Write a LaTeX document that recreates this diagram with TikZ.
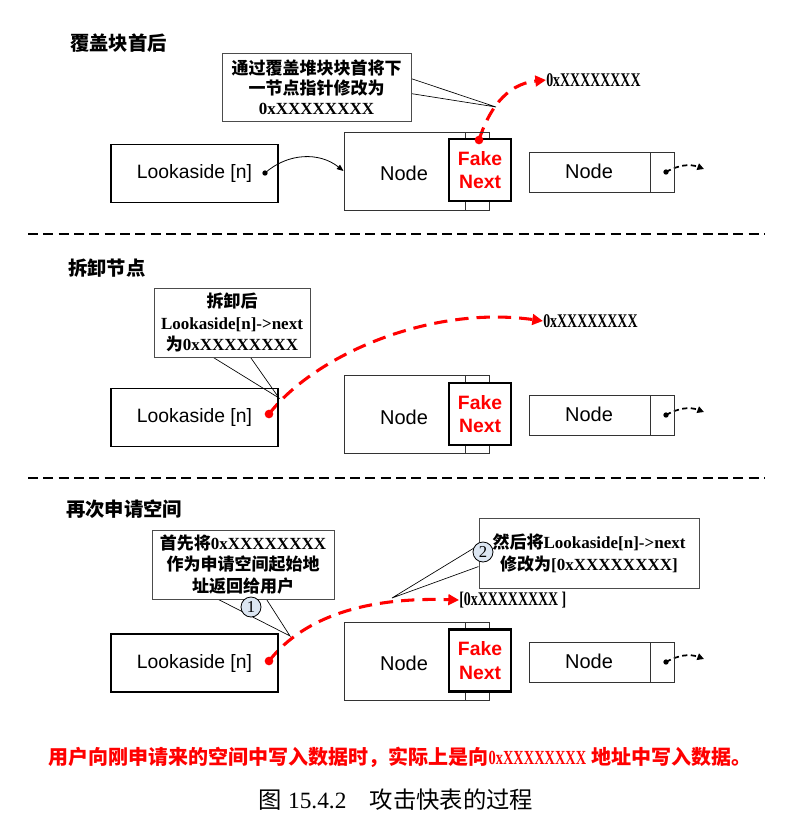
\documentclass[tikz,border=0pt]{standalone}
\usepackage{fontspec}
\setmainfont{Liberation Serif}
\setsansfont{Liberation Sans}
\setmonofont{Liberation Mono}
\newfontfamily\cjk{Noto Sans CJK SC}
\newfontfamily\addrfont{Liberation Serif}[FakeStretch=0.72]
\newcommand{\zh}[1]{{\cjk #1}}
\usetikzlibrary{arrows.meta}
\pgfdeclarelayer{edgelayer}
\pgfdeclarelayer{nodelayer}
\pgfsetlayers{edgelayer,nodelayer,main}
\definecolor{bubble}{HTML}{DCE6F2}
\tikzset{x=0.75pt,y=-0.75pt}
\tikzstyle{txt}=[inner sep=0pt]
\tikzstyle{heading}=[inner sep=0pt,anchor=west,font=\bfseries\fontsize{14.5}{17}\selectfont]
\tikzstyle{note}=[draw=black!70,line width=0.75pt,align=center,inner sep=0pt,font=\bfseries\fontsize{12.75}{16}\selectfont]
\tikzstyle{lookbox}=[draw,line width=0.9pt,minimum width=125.25pt,minimum height=43.5pt,font=\sffamily\fontsize{14.5}{16}\selectfont]
\tikzstyle{chunk}=[draw=black!80,line width=0.75pt,minimum width=108.75pt,minimum height=58.5pt]
\tikzstyle{chunktwo}=[draw=black!80,line width=0.75pt,minimum width=108.75pt,minimum height=30pt]
\tikzstyle{fake}=[draw,fill=white,line width=2.2pt,minimum width=46.5pt,minimum height=46.5pt,align=center,text=red,font=\sffamily\bfseries\fontsize{14.5}{17.5}\selectfont]
\tikzstyle{nodetext}=[inner sep=0pt,font=\sffamily\fontsize{15}{16}\selectfont]
\tikzstyle{bdot}=[circle,fill=black,inner sep=0pt,minimum size=4pt]
\tikzstyle{rdot}=[circle,fill=red,inner sep=0pt,minimum size=6.5pt]
\tikzstyle{addr}=[inner sep=0pt,anchor=west,font=\addrfont\bfseries\fontsize{14.5}{16}\selectfont]
\tikzstyle{num}=[circle,draw,fill=bubble,line width=0.6pt,inner sep=0pt,minimum size=15pt,font=\fontsize{12.5}{14}\selectfont]
\tikzstyle{divider}=[line width=1.5pt,dash pattern=on 7.5pt off 4pt]
\tikzstyle{hack}=[red,line width=2.3pt,dash pattern=on 10pt off 6pt,-{Triangle[length=8pt,width=8pt]}]
\tikzstyle{link}=[line width=0.6pt,-{Triangle[length=5pt,width=4pt]}]
\tikzstyle{nextlink}=[line width=1.3pt,dash pattern=on 4pt off 2.5pt,-{Triangle[length=5pt,width=5pt]}]
\tikzstyle{tail}=[line width=0.5pt]
\tikzstyle{warn}=[inner sep=0pt,text=red,font=\bfseries\fontsize{15}{17}\selectfont]
\tikzstyle{caption}=[inner sep=0pt,font=\fontsize{17.5}{20}\selectfont]

\begin{document}
\begin{tikzpicture}
	\useasboundingbox (0, 0) rectangle (794, 825);
	\begin{pgfonlayer}{nodelayer}
		% first step
		\node [style=heading] (0) at (70, 43) {\zh{覆盖块首后}};
		\node [style=note, minimum width=141.75pt, minimum height=51pt, font=\bfseries\fontsize{12.75}{15}\selectfont] (1) at (316.5, 87) {\zh{通过覆盖堆块块首将下}\\\zh{一节点指针修改为}\\0xXXXXXXXX};
		\node [style=lookbox] (2) at (194.5, 173.5) {Lookaside [n]};
		\node [style=chunk] (3) at (416.5, 171) {};
		\node [style=nodetext] (4) at (404, 173) {Node};
		\node [style=fake] (5) at (480, 170) {Fake\\Next};
		\node [style=chunktwo] (6) at (601.5, 172) {};
		\node [style=nodetext] (7) at (589, 171) {Node};
		\node [style=bdot] (8) at (265, 173) {};
		\node [style=bdot] (9) at (666, 172) {};
		\node [style=rdot] (10) at (479, 140) {};
		\node [style=addr] (11) at (546, 80) {0xXXXXXXXX};
		\node [style=txt] (12) at (496, 107) {};
		\node [style=txt] (13) at (704, 169) {};
		\node [style=txt] (14) at (28, 234) {};
		\node [style=txt] (15) at (765, 234) {};
		% second step
		\node [style=heading] (16) at (68, 268) {\zh{拆卸节点}};
		\node [style=note, minimum width=117pt, minimum height=51.75pt] (17) at (232, 322.5) {\zh{拆卸后}\\Lookaside[n]->next\\\zh{为}0xXXXXXXXX};
		\node [style=lookbox] (18) at (194.5, 417.5) {Lookaside [n]};
		\node [style=chunk] (19) at (416.5, 414.5) {};
		\node [style=nodetext] (20) at (404, 417) {Node};
		\node [style=fake] (21) at (480, 414) {Fake\\Next};
		\node [style=chunktwo] (22) at (601.5, 415) {};
		\node [style=nodetext] (23) at (589, 414) {Node};
		\node [style=bdot] (24) at (666, 415) {};
		\node [style=rdot] (25) at (269, 414) {};
		\node [style=addr] (26) at (543, 321) {0xXXXXXXXX};
		\node [style=txt] (27) at (279, 398) {};
		\node [style=txt] (28) at (704, 412) {};
		\node [style=txt] (29) at (28, 478) {};
		\node [style=txt] (30) at (765, 478) {};
		% third step
		\node [style=heading] (31) at (66, 509) {\zh{再次申请空间}};
		\node [style=note, minimum width=136.5pt, minimum height=51.75pt] (32) at (243, 564.5) {\zh{首先将}0xXXXXXXXX\\\zh{作为申请空间起始地}\\\zh{址返回给用户}};
		\node [style=note, minimum width=165pt, minimum height=52.5pt, font=\bfseries\fontsize{12.75}{16.5}\selectfont] (33) at (589, 553) {\zh{然后将}Lookaside[n]->next\\\zh{修改为}[0xXXXXXXXX]};
		\node [style=lookbox] (34) at (194.5, 663) {Lookaside [n]};
		\node [style=chunk] (35) at (416.5, 661) {};
		\node [style=nodetext] (36) at (404, 663) {Node};
		\node [style=fake] (37) at (480, 660.5) {Fake\\Next};
		\node [style=chunktwo] (38) at (601.5, 662) {};
		\node [style=nodetext] (39) at (589, 661) {Node};
		\node [style=bdot] (40) at (666, 662) {};
		\node [style=rdot] (41) at (269, 661) {};
		\node [style=addr] (42) at (459, 600) {[0xXXXXXXXX ]};
		\node [style=txt] (43) at (290, 636) {};
		\node [style=txt] (44) at (392, 598) {};
		\node [style=num] (45) at (251, 607) {1};
		\node [style=num] (46) at (483, 552) {2};
		\node [style=txt] (47) at (704, 659) {};
		% bottom lines
		\node [style=warn] (48) at (400, 757) {\zh{用户向刚申请来的空间中写入数据时，实际上是向}{\addrfont\bfseries\fontsize{15}{17}\selectfont 0xXXXXXXXX} \zh{地址中写入数据。}};
		\node [style=caption] (49) at (396, 800) {\zh{图} 15.4.2\zh{　攻击快表的过程}};
	\end{pgfonlayer}
	\begin{pgfonlayer}{edgelayer}
		\draw [line width=0.75pt, black!80] (465, 132) -- (465, 210);
		\draw [line width=0.75pt, black!80] (650, 152) -- (650, 192);
		\draw [style=tail] (1.5) -- (12.center) -- (1.-4);
		\draw [style=link] (8.center) to[bend left=40] (3.west);
		\draw [style=nextlink] (9.center) to[bend left=25] (13.center);
		\draw [style=hack] (10.center) .. controls (488, 112) and (505, 84) .. (11.west);
		\draw [style=divider] (14.center) -- (15.center);

		\draw [line width=0.75pt, black!80] (465, 376) -- (465, 453);
		\draw [line width=0.75pt, black!80] (650, 395) -- (650, 435);
		\draw [style=tail] (17.-118.8) -- (27.center) -- (17.-62.4);
		\draw [style=nextlink] (24.center) to[bend left=25] (28.center);
		\draw [style=hack] (25.center) .. controls (315, 355) and (430, 305) .. (26.west);
		\draw [style=divider] (29.center) -- (30.center);

		\draw [line width=0.75pt, black!80] (465, 622) -- (465, 700);
		\draw [line width=0.75pt, black!80] (650, 642) -- (650, 682);
		\draw [style=tail] (32.-125.9) -- (43.center) -- (32.-56.3);
		\draw [style=tail] (33.176.9) -- (44.center) -- (33.-173.8);
		\draw [style=nextlink] (40.center) to[bend left=25] (47.center);
		\draw [style=hack] (41.center) .. controls (305, 615) and (370, 597) .. (42.west);
	\end{pgfonlayer}
\end{tikzpicture}
\end{document}
